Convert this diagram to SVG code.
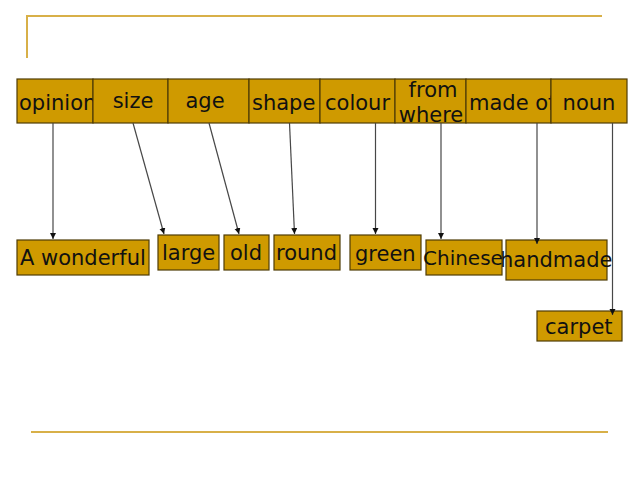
<svg xmlns="http://www.w3.org/2000/svg" width="640" height="480" viewBox="0 0 640 480">
<defs>
<style>
.box{fill:#CF9A00;stroke:#4f3c05;stroke-width:1.2}
.t{font-family:"DejaVu Sans","Liberation Sans",sans-serif;font-size:21px;fill:#111}
.deco{stroke:#D8B048;stroke-width:2;fill:none}
.c{stroke:#474747;stroke-width:1.2;fill:none;marker-end:url(#ah)}
</style>
<marker id="ah" markerUnits="userSpaceOnUse" markerWidth="7" markerHeight="7" refX="6" refY="3" orient="auto">
<path d="M0,0 L6,3 L0,6 z" fill="#111"/>
</marker>
</defs>
<rect width="640" height="480" fill="#fff"/>
<path class="deco" d="M27,58 V16 H602"/>
<path class="deco" d="M31,432 H608"/>

<g id="opinion"><rect class="box" x="17" y="79" width="76" height="44"/><text class="t" x="19" y="110">opinion</text></g>
<g id="size"><rect class="box" x="93" y="79" width="75" height="44"/><text class="t" x="133" y="108" text-anchor="middle">size</text></g>
<g id="age"><rect class="box" x="168" y="79" width="81" height="44"/><text class="t" x="205" y="108" text-anchor="middle">age</text></g>
<g id="shape"><rect class="box" x="249" y="79" width="71" height="44"/><text class="t" x="252" y="110">shape</text></g>
<g id="colour"><rect class="box" x="320" y="79" width="75" height="44"/><text class="t" x="325" y="110">colour</text></g>
<g id="fromwhere"><rect class="box" x="395" y="79" width="71" height="44"/><text class="t" x="433" y="97" text-anchor="middle">from</text><text class="t" x="431" y="122" text-anchor="middle">where</text></g>
<g id="madeof"><rect class="box" x="466" y="79" width="85" height="44"/><text class="t" x="469" y="110">made of</text></g>
<g id="noun"><rect class="box" x="551" y="79" width="76" height="44"/><text class="t" x="589" y="110" text-anchor="middle">noun</text></g>

<g id="awonderful"><rect class="box" x="17" y="240" width="132" height="35"/><text class="t" x="20" y="265">A wonderful</text></g>
<g id="large"><rect class="box" x="158" y="235" width="61" height="35"/><text class="t" x="162" y="260">large</text></g>
<g id="old"><rect class="box" x="224" y="235" width="45" height="35"/><text class="t" x="230" y="260">old</text></g>
<g id="round"><rect class="box" x="274" y="235" width="66" height="35"/><text class="t" x="276" y="260">round</text></g>
<g id="green"><rect class="box" x="350" y="235" width="71" height="35"/><text class="t" x="355" y="261">green</text></g>
<g id="handmade"><rect class="box" x="506" y="240" width="101" height="40"/><text class="t" x="500" y="267">handmade</text></g>
<g id="chinese"><rect class="box" x="426" y="240" width="76" height="35"/><text class="t" x="423" y="265" style="font-size:20px">Chinese</text></g>
<g id="carpet"><rect class="box" x="537" y="311" width="85" height="30"/><text class="t" x="545" y="334">carpet</text></g>

<g id="connectors">
<line class="c" x1="53" y1="123" x2="53" y2="239"/>
<line class="c" x1="133" y1="123" x2="164" y2="234"/>
<line class="c" x1="209" y1="123" x2="239" y2="234"/>
<line class="c" x1="289.5" y1="123" x2="294.5" y2="234"/>
<line class="c" x1="375.5" y1="123" x2="375.5" y2="234"/>
<line class="c" x1="441" y1="123" x2="441" y2="239"/>
<line class="c" x1="537" y1="123" x2="537" y2="244"/>
<line class="c" x1="612.5" y1="123" x2="612.5" y2="315"/>
</g>
</svg>
